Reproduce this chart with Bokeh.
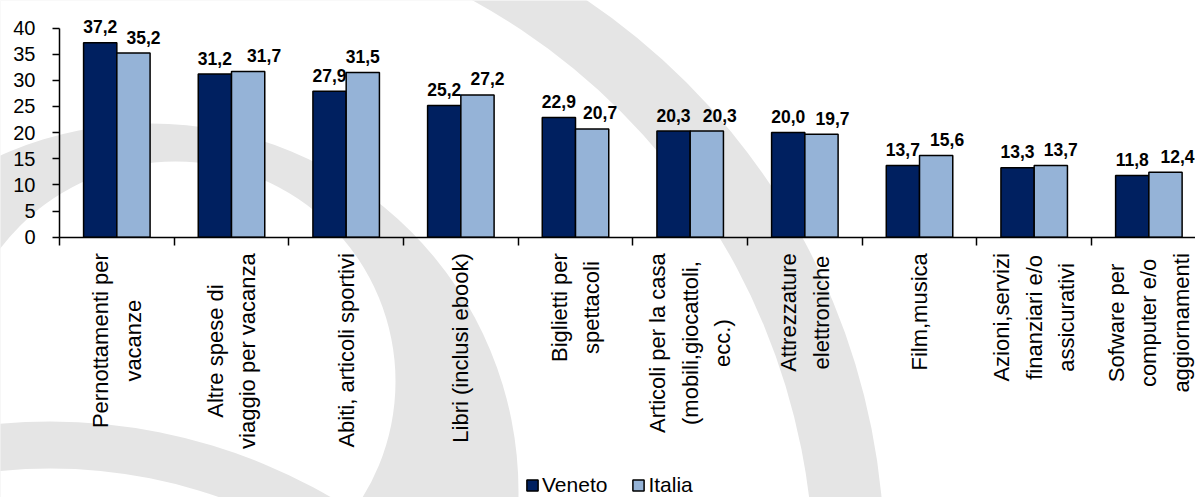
import math
from bokeh.plotting import figure
from bokeh.models import ColumnDataSource, Range1d, LinearAxis, FixedTicker
from bokeh.core.properties import value
from bokeh.embed import file_html
from bokeh.resources import INLINE

# ---------------- data ----------------
categories = [
    "Pernottamenti per\nvacanze",
    "Altre spese di\nviaggio per vacanza",
    "Abiti, articoli sportivi",
    "Libri (inclusi ebook)",
    "Biglietti per\nspettacoli",
    "Articoli per la casa\n(mobili,giocattoli,\necc.)",
    "Attrezzature\nelettroniche",
    "Film,musica",
    "Azioni,servizi\nfinanziari e/o\nassicurativi",
    "Sofware per\ncomputer e/o\naggiornamenti",
]
veneto = [37.2, 31.2, 27.9, 25.2, 22.9, 20.3, 20.0, 13.7, 13.3, 11.8]
italia = [35.2, 31.7, 31.5, 27.2, 20.7, 20.3, 19.7, 15.6, 13.7, 12.4]
series_names = ["Veneto", "Italia"]
y_ticks = [0, 5, 10, 15, 20, 25, 30, 35, 40]

# ---------------- layout / style ----------------
FONT = "Liberation Sans"
VENETO_COLOR = "#002060"
ITALIA_COLOR = "#95B3D7"
WM_COLOR = "#e5e5e5"

W, H = 1195, 497
AXIS_X0_PX = 59.0        # canvas px of x = 0
X_PX = 114.67            # px per category
AXIS_Y0_PX = 236.7       # canvas px of y = 0
Y_PX = 5.23              # px per unit

BAR_W = 0.29
italia_label_dx = [10, 16, 0, 10, 8, 13, 11, 11, 10, 12]  # label nudges (px)


def dx(px):
    return (px - AXIS_X0_PX) / X_PX


def dy(py):
    return (AXIS_Y0_PX - py) / Y_PX


x_range = Range1d(dx(0), dx(W))
y_range = Range1d(dy(H), dy(0))

p = figure(width=W, height=H, x_range=x_range, y_range=y_range,
           output_backend="svg", toolbar_location=None,
           x_axis_type=None, y_axis_type=None, min_border=0,
           outline_line_color=None, background_fill_color="white",
           border_fill_color="white")
p.grid.visible = False

# ---------------- background watermark (decoration) ----------------
# discs drawn in order (canvas px centre, radius px, colour)
wm_cx = [208, 155.5, 150, 175]
wm_cy = [560, 576.7, 491, 381]
wm_r = [676, 658, 368, 220]
wm_col = [WM_COLOR, "white", WM_COLOR, "white"]
for cx, cy, r, c in zip(wm_cx, wm_cy, wm_r, wm_col):
    p.annulus(x=[dx(cx)], y=[dy(cy)], inner_radius=0, outer_radius=r,
              inner_radius_units="screen", outer_radius_units="screen",
              fill_color=c, line_color=None)
p.annulus(x=[dx(50)], y=[dy(978)], inner_radius=510, outer_radius=557,
          inner_radius_units="screen", outer_radius_units="screen",
          fill_color=WM_COLOR, line_color=None)

# ---------------- bars ----------------
idx = list(range(len(categories)))
x_ven = [i + 0.5 - BAR_W / 2 for i in idx]
x_ita = [i + 0.5 + BAR_W / 2 for i in idx]


def fmt(v):
    return f"{v:.1f}".replace(".", ",")


src_v = ColumnDataSource(dict(x=x_ven, top=veneto, lab=[fmt(v) for v in veneto],
                              dx=[0] * len(veneto)))
src_i = ColumnDataSource(dict(x=x_ita, top=italia, lab=[fmt(v) for v in italia],
                              dx=italia_label_dx))

p.vbar(x="x", top="top", width=BAR_W, source=src_v, fill_color=VENETO_COLOR,
       line_color="black", line_width=1.5, legend_label=series_names[0])
p.vbar(x="x", top="top", width=BAR_W, source=src_i, fill_color=ITALIA_COLOR,
       line_color="black", line_width=1.5, legend_label=series_names[1])

for src in (src_v, src_i):
    p.text(x="x", y="top", text="lab", source=src, x_offset="dx", y_offset=-16,
           text_align="center", text_baseline="alphabetic",
           text_font=value(FONT), text_font_style="bold",
           text_font_size="17.5px", text_color="black")

# ---------------- category labels ----------------
cat_src = ColumnDataSource(dict(x=[i + 0.5 for i in idx], y=[0] * len(idx),
                                label=categories))
p.text(x="x", y="y", text="label", source=cat_src, angle=math.pi / 2,
       anchor="center_right", text_align="center", text_baseline="middle",
       y_offset=16, text_font=value(FONT), text_font_size="22px",
       text_line_height=1.3, text_color="black")

# ---------------- axes ----------------
yaxis = LinearAxis(fixed_location=0, ticker=FixedTicker(ticks=y_ticks),
                   bounds=(0, 40), axis_line_color="black", axis_line_width=1.5,
                   major_tick_line_color="black", major_tick_line_width=1.5,
                   major_tick_in=0, major_tick_out=7,
                   minor_tick_line_color=None,
                   major_label_text_font=FONT, major_label_text_font_size="20px",
                   major_label_text_color="black", major_label_standoff=17)
p.add_layout(yaxis, "left")

xaxis = LinearAxis(fixed_location=0,
                   ticker=FixedTicker(ticks=[], minor_ticks=list(range(len(categories) + 1))),
                   bounds=(0, len(categories)), axis_line_color="black",
                   axis_line_width=1.5, major_tick_line_color=None,
                   minor_tick_line_color="black", minor_tick_line_width=1.5,
                   minor_tick_in=0, minor_tick_out=8)
p.add_layout(xaxis, "below")

# ---------------- legend ----------------
lg = p.legend[0]
lg.orientation = "horizontal"
lg.location = (525, 0)
lg.padding = 0
lg.margin = 0
lg.spacing = 24
lg.label_standoff = 3
lg.glyph_width = 14
lg.glyph_height = 14
lg.label_text_font = FONT
lg.label_text_font_size = "21px"
lg.label_text_color = "black"
lg.border_line_color = None
lg.background_fill_alpha = 0

open("out.html", "w").write(file_html(p, INLINE))
